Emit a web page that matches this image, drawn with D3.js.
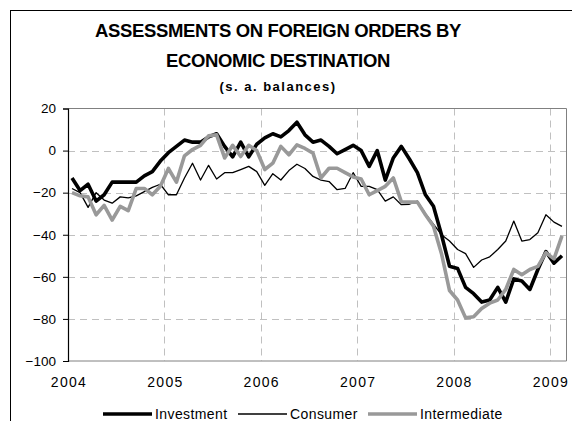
<!DOCTYPE html>
<html>
<head>
<meta charset="utf-8">
<script src="https://cdn.jsdelivr.net/npm/d3@7"></script>
<style>
  html, body { margin: 0; padding: 0; background: #fff; }
  svg { display: block; font-family: "Liberation Sans", Arial, sans-serif; }
</style>
</head>
<body>
<svg id="chart" width="572" height="421"></svg>
<script>
// Monthly categories: January 2004 to February 2009
const months = d3.timeMonth.range(new Date(2004, 0, 1), new Date(2009, 2, 1)).map(d3.timeFormat("%Y-%m"));
const yearLabels = ["2004", "2005", "2006", "2007", "2008", "2009"];
const yTicks = [20, 0, -20, -40, -60, -80, -100];

// Seasonally adjusted balances
const investment = [
  -13, -19, -16, -24, -21, -15, -15, -15, -15, -12, -10, -5,
  -1, 2, 5, 4, 4, 6.5, 8, 2, -3, 4, -3, 3,
  6, 8, 6.5, 9.5, 13.5, 7.5, 4, 5, 2, -1.5, 0.5, 2.5,
  0, -7.5, 0, -14, -3.5, 2, -4, -10.5, -21, -26.5, -40, -55,
  -56, -65, -68, -72, -71, -65, -72, -61, -62, -66, -56.5, -48,
  -53.5, -50
];
const consumer = [
  -18, -20, -27, -20, -23.5, -25, -22, -22.5, -21.5, -19.5, -17.5, -16,
  -21, -21, -13, -6, -14, -7, -13.5, -10.5, -10.5, -9, -7.5, -10,
  -16.5, -11, -14, -9.5, -6.5, -8.5, -12.3, -14, -14.7, -18.6, -18, -10.5,
  -17, -17, -18.6, -24, -22, -25.7, -25.5, -24, -30, -35, -40, -43,
  -47, -49, -55.5, -52, -50.5, -47, -43, -33.5, -43, -42.3, -39, -30.5,
  -34, -36
];
const intermediate = [
  -20, -21.5, -22, -30.5, -26, -33, -26.5, -28.5, -18, -18, -21, -17,
  -8.5, -15, -2.5, 0.5, 2.5, 7, 7.5, -3.5, 2.5, -2.8, 2.5, 0,
  -9, -6, 2, -2, 2.7, 1, -1.2, -13, -8.4, -8.4, -10.5, -12.5,
  -13.5, -21, -19, -17, -13, -24.3, -24.5, -24.5, -30.5, -36, -49, -66.5,
  -71, -79.5, -79, -75, -72.5, -71, -66, -56.5, -59, -56.5, -55, -48.5,
  -51.5, -40.5
];

const seriesNames = ["Investment", "Consumer", "Intermediate"];
const seriesData = [investment, consumer, intermediate];
const seriesStyle = [
  { color: "#000000", width: 3.6 },
  { color: "#000000", width: 1.3 },
  { color: "#999999", width: 3.6 }
];

const svg = d3.select("#chart");
const plot = { left: 68, right: 566, top: 108.5, bottom: 361 };

// Outer chart frame
svg.append("rect")
  .attr("x", 10.5).attr("y", 10.5)
  .attr("width", 620).attr("height", 460)
  .attr("fill", "none").attr("stroke", "#000").attr("stroke-width", 1);

// Titles
const cx = 278;
svg.append("text").attr("x", cx).attr("y", 37)
  .attr("text-anchor", "middle").attr("font-size", 18.5).attr("font-weight", "bold")
  .attr("letter-spacing", -0.35)
  .text("ASSESSMENTS ON FOREIGN ORDERS BY");
svg.append("text").attr("x", cx).attr("y", 66.5)
  .attr("text-anchor", "middle").attr("font-size", 18.5).attr("font-weight", "bold")
  .attr("letter-spacing", -0.35)
  .text("ECONOMIC DESTINATION");
svg.append("text").attr("x", cx).attr("y", 91)
  .attr("text-anchor", "middle").attr("font-size", 13).attr("font-weight", "bold")
  .attr("letter-spacing", 1.5)
  .text("(s. a. balances)");

// Scales
const x = d3.scaleBand().domain(months).range([plot.left, plot.right]).paddingInner(0).paddingOuter(0);
const xc = m => x(m) + x.bandwidth() / 2;
const y = d3.scaleLinear().domain([-100, 20]).range([plot.bottom, plot.top]);

// Dashed gridlines
const grid = svg.append("g");
grid.selectAll("line.h")
  .data(yTicks.filter(v => v > -100 && v < 20))
  .join("line")
  .attr("x1", plot.left).attr("x2", plot.right)
  .attr("y1", d => Math.round(y(d)) + 0.5).attr("y2", d => Math.round(y(d)) + 0.5)
  .attr("stroke", "#c0c0c0").attr("stroke-width", 1).attr("stroke-dasharray", "7,5");
grid.selectAll("line.v")
  .data(yearLabels.slice(1))
  .join("line")
  .attr("x1", d => Math.round(x(d + "-01")) + 0.5).attr("x2", d => Math.round(x(d + "-01")) + 0.5)
  .attr("y1", plot.top).attr("y2", plot.bottom)
  .attr("stroke", "#c0c0c0").attr("stroke-width", 1).attr("stroke-dasharray", "7,5");

// Plot area border (top, right, bottom)
svg.append("path")
  .attr("d", `M${plot.left},${plot.top}H${plot.right + 0.5}V${plot.bottom}H${plot.left}`)
  .attr("fill", "none").attr("stroke", "#808080").attr("stroke-width", 1);

// Y axis
const yAxis = svg.append("g").attr("transform", `translate(${plot.left},0)`)
  .call(d3.axisLeft(y).tickValues(yTicks).tickSize(5).tickPadding(7).tickFormat(d3.format("d")));
yAxis.select(".domain").attr("stroke", "#000").attr("stroke-width", 1.2);
yAxis.selectAll(".tick line").attr("stroke", "#000");
yAxis.selectAll(".tick text")
  .attr("font-family", "Liberation Sans, Arial, sans-serif")
  .attr("font-size", 13.5).attr("fill", "#000");

// X axis year labels
svg.append("g").selectAll("text")
  .data(yearLabels)
  .join("text")
  .attr("x", d => x(d + "-01") + 1)
  .attr("y", 387)
  .attr("text-anchor", "middle")
  .attr("font-size", 14).attr("letter-spacing", 1.3)
  .text(d => d);

// Series lines
const line = d3.line().x((d, i) => xc(months[i])).y(d => y(d));
svg.append("g").selectAll("path")
  .data(seriesData)
  .join("path")
  .attr("d", d => line(d))
  .attr("fill", "none")
  .attr("stroke", (d, i) => seriesStyle[i].color)
  .attr("stroke-width", (d, i) => seriesStyle[i].width)
  .attr("stroke-linejoin", "round");

// Legend
const legendX = [103, 238, 368];
const legend = svg.append("g").selectAll("g")
  .data(seriesNames)
  .join("g")
  .attr("transform", (d, i) => `translate(${legendX[i]},414)`);
legend.append("line")
  .attr("x1", 0).attr("x2", 49).attr("y1", 0).attr("y2", 0)
  .attr("stroke", (d, i) => seriesStyle[i].color)
  .attr("stroke-width", (d, i) => seriesStyle[i].width);
legend.append("text")
  .attr("x", 52).attr("y", 5)
  .attr("font-size", 14).attr("letter-spacing", 0.4)
  .text(d => d);
</script>
</body>
</html>
